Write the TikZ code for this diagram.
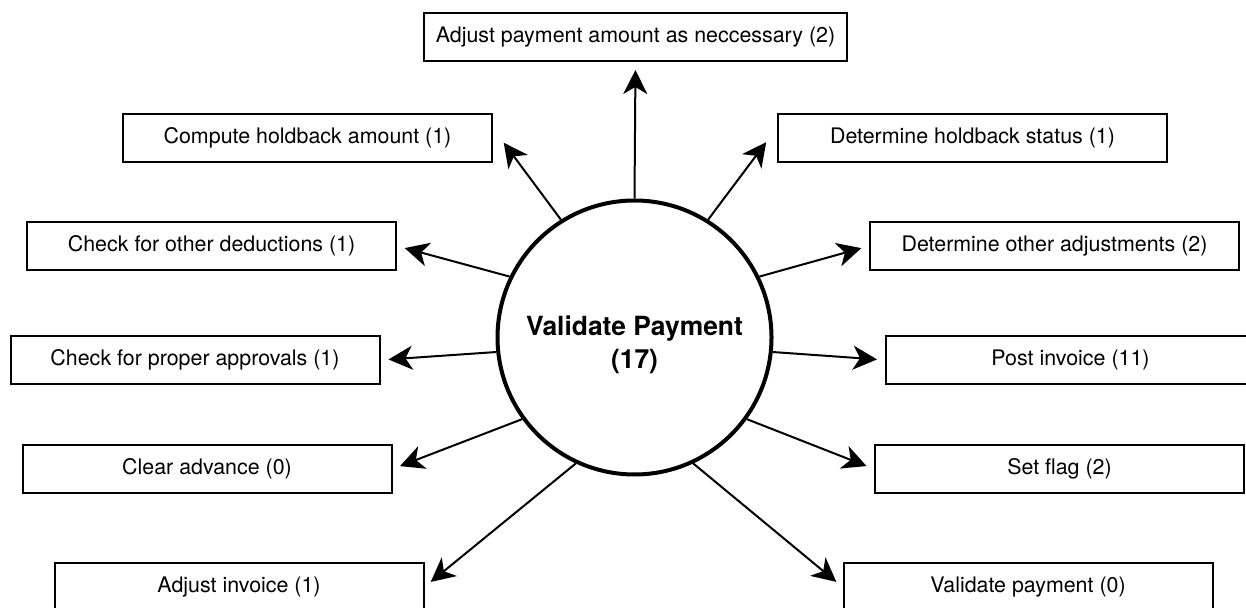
\documentclass[tikz,border=0pt]{standalone}
\usepackage{fontspec}
\setmainfont{TeX Gyre Heros}
\usetikzlibrary{arrows.meta}

\tikzset{
  taskbox/.style={draw, line width=1pt, minimum width=184.5pt, minimum height=24pt,
    inner sep=0pt, font=\fontsize{10.7}{12}\selectfont},
  hub/.style={draw, circle, line width=2pt, minimum size=137pt, inner sep=0pt},
  link/.style={-{Stealth[length=12pt,width=12pt,inset=3.5pt]}, line width=1pt, shorten >=4pt},
}

\begin{document}
\begin{tikzpicture}[x=0.5pt, y=-0.5pt]
  \useasboundingbox (0,0) rectangle (1246,608);
  %% central process
  \node[hub] (vp) at (634.5,337.5) {};
  \node[font=\fontsize{13.2}{16.5}\selectfont\bfseries, align=center] (vplbl) at (634.5,345)
    {Validate Payment\\(17)};
  %% sub-processes
  \node[taskbox, minimum width=211.5pt] (adjamt) at (635.5,37) {Adjust payment amount as neccessary (2)};
  \node[taskbox, minimum width=194.5pt] (dethb) at (972.5,138) {Determine holdback status (1)};
  \foreach \nm/\cx/\cy/\txt in {
      comphb/307.5/138/Compute holdback amount (1),
      othded/211.5/246/Check for other deductions (1),
      othadj/1054.5/246/Determine other adjustments (2),
      approv/195/360/Check for proper approvals (1),
      postinv/1070.5/360/Post invoice (11),
      clradv/207/469/Clear advance (0),
      setflag/1059.5/469/Set flag (2),
      adjinv/239/587/Adjust invoice (1),
      valpay/1028/587/Validate payment (0)}{
    \node[taskbox] (\nm) at (\cx,\cy) {\txt};
  }
  %% arrows out of the hub
  \foreach \ang/\nm/\anc in {90/adjamt/south, 154/othded/east, 26/othadj/west,
      186/approv/east, 354/postinv/west, 216/clradv/east, 324/setflag/west,
      245/adjinv/east, 295/valpay/west}{
    \draw[link] (vp.\ang) -- (\nm.\anc);
  }
  \draw[link, shorten >=9pt] (vp.122) -- (comphb.3);
  \draw[link, shorten >=9pt] (vp.58) -- (dethb.177);
\end{tikzpicture}
\end{document}
